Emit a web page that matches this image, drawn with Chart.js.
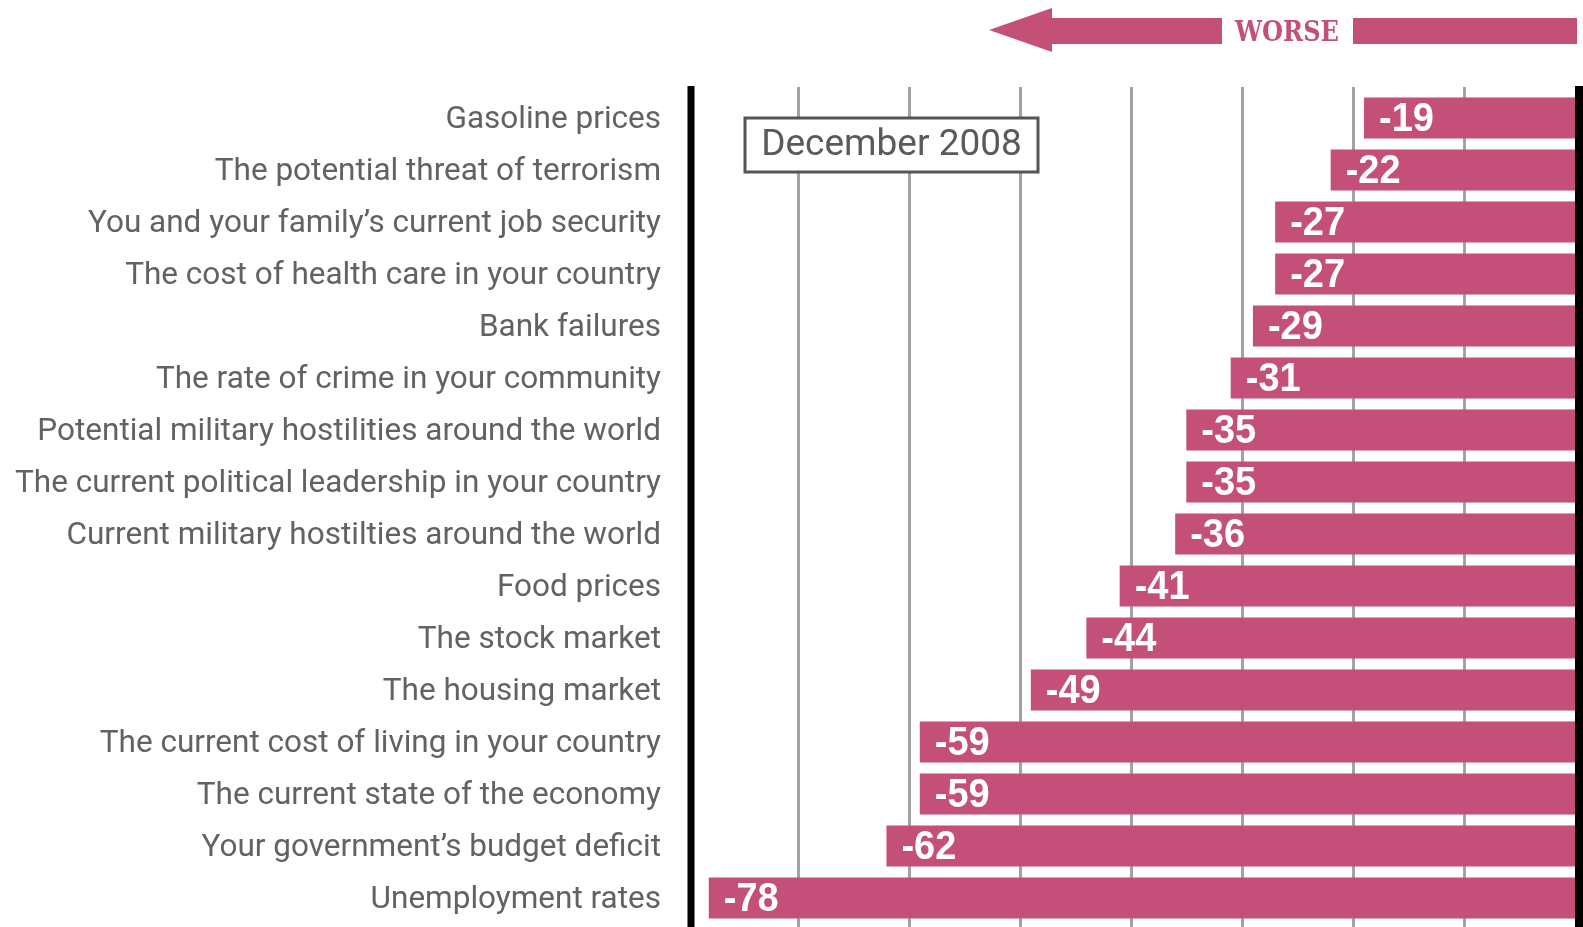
<!DOCTYPE html>
<html><head><meta charset="utf-8">
<script src="https://cdn.jsdelivr.net/npm/chart.js@4.4.1/dist/chart.umd.min.js"></script>
<style>html,body{margin:0;padding:0;background:#fff;overflow:hidden}</style>
</head><body>
<canvas id="c" width="1583" height="927"></canvas>
<script>
const categories = [
  "Gasoline prices",
  "The potential threat of terrorism",
  "You and your family\u2019s current job security",
  "The cost of health care in your country",
  "Bank failures",
  "The rate of crime in your community",
  "Potential military hostilities around the world",
  "The current political leadership in your country",
  "Current military hostilties around the world",
  "Food prices",
  "The stock market",
  "The housing market",
  "The current cost of living in your country",
  "The current state of the economy",
  "Your government\u2019s budget deficit",
  "Unemployment rates"
];
const values = [-19, -22, -27, -27, -29, -31, -35, -35, -36, -41, -44, -49, -59, -59, -62, -78];
const gridValues = [-70, -60, -50, -40, -30, -20, -10];
const axisMin = -79.6;
const axisMax = 0;
const periodLabel = "December 2008";
const directionLabel = "WORSE";

const PINK = "#c44f79";

function condensedText(ctx, text, x, y, scaleX) {
  ctx.save();
  ctx.translate(x, y);
  ctx.scale(scaleX, 1);
  ctx.fillText(text, 0, 0);
  ctx.restore();
}

const overlay = {
  id: "overlay",
  beforeDatasetsDraw(chart) {
    const ctx = chart.ctx, xs = chart.scales.x, ca = chart.chartArea;
    ctx.save();
    ctx.strokeStyle = "#a3a3a3";
    ctx.lineWidth = 3;
    gridValues.forEach(v => {
      const px = Math.round(xs.getPixelForValue(v)) + 0.5;
      ctx.beginPath(); ctx.moveTo(px, 87); ctx.lineTo(px, 927); ctx.stroke();
    });
    // period box
    const bx = ca.left + 54, by = 118, bw = 293, bh = 54;
    ctx.fillStyle = "#fff";
    ctx.fillRect(bx, by, bw, bh);
    ctx.strokeStyle = "#555";
    ctx.lineWidth = 3;
    ctx.strokeRect(bx, by, bw, bh);
    ctx.fillStyle = "#5a5a5a";
    ctx.font = "37px Roboto";
    ctx.textAlign = "center";
    ctx.textBaseline = "middle";
    ctx.fillText(periodLabel, bx + bw / 2, by + bh / 2 + 1);
    ctx.restore();
  },
  afterDatasetsDraw(chart) {
    const ctx = chart.ctx, xs = chart.scales.x, ca = chart.chartArea;
    ctx.save();
    // axis lines
    ctx.fillStyle = "#000";
    ctx.fillRect(ca.left - 3.5, 86, 7, 927 - 86);
    ctx.fillRect(xs.getPixelForValue(axisMax), 86, 8, 927 - 86);
    // value labels
    const meta = chart.getDatasetMeta(0);
    ctx.fillStyle = "#fff";
    ctx.font = "bold 40px 'Liberation Sans'";
    ctx.textAlign = "left";
    ctx.textBaseline = "middle";
    meta.data.forEach((bar, i) => {
      condensedText(ctx, String(values[i]), bar.x + 15, bar.y + 2, 0.95);
    });
    // WORSE arrow
    ctx.fillStyle = PINK;
    ctx.beginPath();
    ctx.moveTo(989, 30);
    ctx.lineTo(1052, 8);
    ctx.lineTo(1052, 18);
    ctx.lineTo(1222, 18);
    ctx.lineTo(1222, 44);
    ctx.lineTo(1052, 44);
    ctx.lineTo(1052, 52);
    ctx.closePath();
    ctx.fill();
    ctx.fillRect(1353, 18, 224, 26);
    ctx.font = "bold 27px 'DejaVu Serif'";
    ctx.textAlign = "left";
    ctx.textBaseline = "alphabetic";
    const w = ctx.measureText(directionLabel).width;
    condensedText(ctx, directionLabel, 1235, 41, 104 / w);
    ctx.restore();
  }
};

new Chart(document.getElementById("c"), {
  type: "bar",
  data: {
    labels: categories,
    datasets: [{
      data: values,
      backgroundColor: PINK,
      borderWidth: 0,
      categoryPercentage: 1,
      barPercentage: 0.79
    }]
  },
  options: {
    indexAxis: "y",
    responsive: false,
    animation: false,
    devicePixelRatio: 1,
    layout: { padding: { top: 92, right: 8, bottom: 3, left: 0 } },
    plugins: { legend: { display: false }, tooltip: { enabled: false } },
    scales: {
      x: {
        min: axisMin, max: axisMax,
        display: false,
        grid: { display: false }
      },
      y: {
        grid: { display: false, drawTicks: false },
        border: { display: false },
        ticks: {
          color: "#626262",
          padding: 30,
          labelOffset: 2.5,
          font: { family: "Roboto", size: 31.5 }
        },
        afterFit(s) { s.width = 691; s.paddingTop = 0; s.paddingBottom = 0; }
      }
    }
  },
  plugins: [overlay]
});
</script>
</body></html>
